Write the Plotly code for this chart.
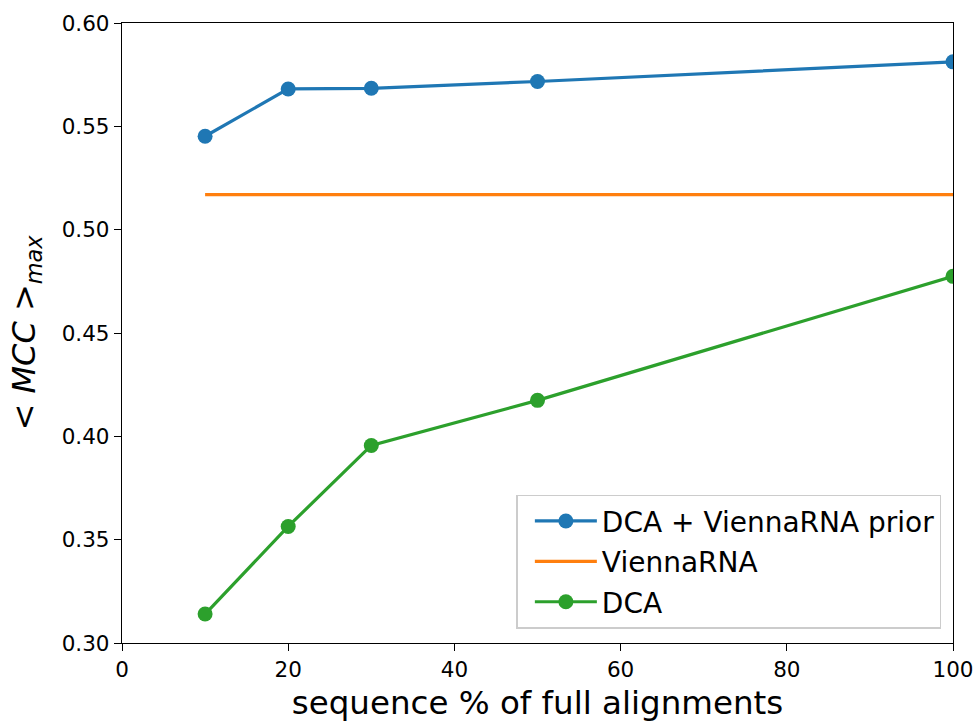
import plotly.graph_objects as go

# sequence fraction (% of full alignments)
seq_pct = [10, 20, 30, 50, 100]

# mean MCC (max) per method
mcc_dca_vienna = [0.5452, 0.5681, 0.5684, 0.5717, 0.5812]
mcc_vienna = [0.5170, 0.5170, 0.5170, 0.5170, 0.5170]
mcc_dca = [0.3140, 0.3564, 0.3956, 0.4174, 0.4774]

x_ticks = [0, 20, 40, 60, 80, 100]
y_ticks = [0.30, 0.35, 0.40, 0.45, 0.50, 0.55, 0.60]

FONT = "DejaVu Sans"
BLUE, ORANGE, GREEN = "#1f77b4", "#ff7f0e", "#2ca02c"

fig = go.Figure()
fig.add_trace(go.Scatter(
    x=seq_pct, y=mcc_dca_vienna, mode="lines+markers",
    name="DCA + ViennaRNA prior", legendgroup="a",
    line=dict(color=BLUE, width=3.2), marker=dict(color=BLUE, size=15),
))
fig.add_trace(go.Scatter(
    x=seq_pct, y=mcc_vienna, mode="lines",
    name="ViennaRNA", legendgroup="b",
    line=dict(color=ORANGE, width=3.2),
))
fig.add_trace(go.Scatter(
    x=seq_pct, y=mcc_dca, mode="lines+markers",
    name="DCA", legendgroup="c",
    line=dict(color=GREEN, width=3.2), marker=dict(color=GREEN, size=15),
))

axis_common = dict(
    showline=True, linecolor="black", linewidth=1.3, mirror=True,
    showgrid=False, zeroline=False, automargin=False,
    ticks="outside", ticklen=7, tickwidth=1.3, tickcolor="black",
    tickfont=dict(family=FONT, size=21.5, color="black"),
)

fig.update_xaxes(
    range=[0, 100], tickvals=x_ticks, ticktext=[str(v) for v in x_ticks],
    title=dict(text="sequence % of full alignments",
               font=dict(family=FONT, size=32.5, color="black"), standoff=12),
    **axis_common,
)
fig.update_yaxes(
    range=[0.30, 0.60], tickvals=y_ticks, ticktext=[f"{v:.2f}" for v in y_ticks],
    title=dict(text="&lt; <i>MCC</i> &gt;<sub><i>max</i></sub>",
               font=dict(family=FONT, size=32, color="black"), standoff=16),
    **axis_common,
)

fig.update_layout(
    width=978, height=722,
    margin=dict(l=122, r=25, t=23, b=79),
    paper_bgcolor="white", plot_bgcolor="white",
    font=dict(family=FONT, color="black"),
    showlegend=True,
    legend=dict(
        x=0.986, y=0.023, xanchor="right", yanchor="bottom",
        bgcolor="rgba(255,255,255,0.8)", bordercolor="#cccccc", borderwidth=1.5,
        font=dict(family=FONT, size=28, color="black"),
        tracegroupgap=1, traceorder="grouped",
        indentation=12, itemwidth=62,
    ),
)

fig.write_html("out.html")
